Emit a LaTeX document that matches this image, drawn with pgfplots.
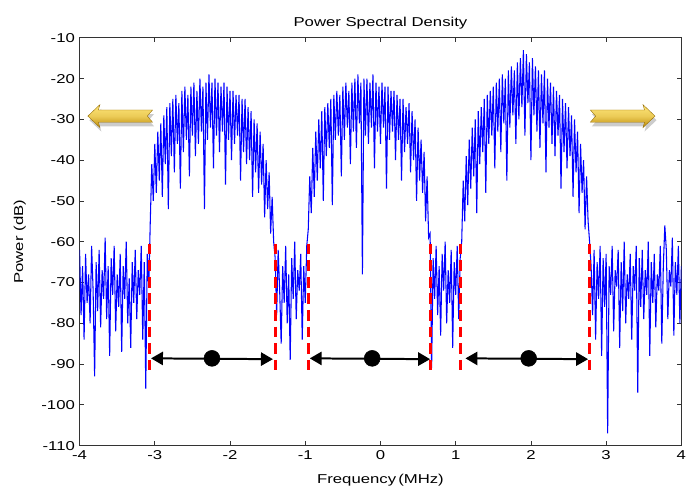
\documentclass[border=0pt]{standalone}
\usepackage{fontspec}
\setmainfont[FakeStretch=1.3]{Liberation Sans}
\usepackage{pgfplots}
\pgfplotsset{compat=1.18}
\usetikzlibrary{arrows.meta}
\usepackage{pgfplotstable}

\definecolor{specblue}{RGB}{0,0,255}
\definecolor{goldlight}{RGB}{255,230,120}
\definecolor{golddark}{RGB}{190,140,10}

% power spectral density samples (MHz, dB)
\pgfplotstableread{
x y
-4.00 -62
-3.98 -78
-3.96 -66
-3.94 -84
-3.92 -63
-3.90 -75
-3.88 -68
-3.86 -80
-3.84 -61
-3.82 -72
-3.80 -93
-3.78 -65
-3.76 -77
-3.74 -62
-3.72 -81
-3.70 -67
-3.68 -74
-3.66 -59
-3.64 -79
-3.62 -66
-3.60 -88
-3.58 -64
-3.56 -73
-3.54 -61
-3.52 -82
-3.50 -68
-3.48 -76
-3.46 -63
-3.44 -87
-3.42 -66
-3.40 -74
-3.38 -60
-3.36 -80
-3.34 -69
-3.32 -86
-3.30 -65
-3.28 -75
-3.26 -62
-3.24 -79
-3.22 -67
-3.20 -73
-3.18 -61
-3.16 -84
-3.14 -65
-3.12 -96
-3.10 -63
-3.08 -71
-3.06 -55
-3.04 -41
-3.02 -50
-3.00 -36
-2.98 -48
-2.96 -33
-2.94 -45
-2.92 -31
-2.90 -49
-2.88 -29
-2.86 -41
-2.84 -27
-2.82 -52
-2.80 -26
-2.78 -39
-2.76 -25
-2.74 -43
-2.72 -24
-2.70 -36
-2.68 -26
-2.66 -47
-2.64 -23
-2.62 -38
-2.60 -22
-2.58 -35
-2.56 -24
-2.54 -44
-2.52 -22
-2.50 -34
-2.48 -21
-2.46 -39
-2.44 -23
-2.42 -36
-2.40 -20
-2.38 -33
-2.36 -22
-2.34 -52
-2.32 -21
-2.30 -35
-2.28 -19
-2.26 -32
-2.24 -21
-2.22 -42
-2.20 -20
-2.18 -34
-2.16 -21
-2.14 -38
-2.12 -22
-2.10 -33
-2.08 -21
-2.06 -46
-2.04 -22
-2.02 -35
-2.00 -23
-1.98 -40
-1.96 -23
-1.94 -36
-1.92 -24
-1.90 -34
-1.88 -24
-1.86 -45
-1.84 -25
-1.82 -38
-1.80 -25
-1.78 -41
-1.76 -27
-1.74 -40
-1.72 -28
-1.70 -49
-1.68 -30
-1.66 -43
-1.64 -31
-1.62 -48
-1.60 -33
-1.58 -46
-1.56 -36
-1.54 -54
-1.52 -40
-1.50 -52
-1.48 -43
-1.46 -58
-1.44 -49
-1.42 -60
-1.40 -64
-1.38 -78
-1.36 -62
-1.34 -72
-1.32 -85
-1.30 -66
-1.28 -75
-1.26 -61
-1.24 -80
-1.22 -68
-1.20 -89
-1.18 -64
-1.16 -74
-1.14 -60
-1.12 -79
-1.10 -67
-1.08 -72
-1.06 -63
-1.04 -84
-1.02 -66
-1.00 -75
-0.98 -61
-0.96 -57
-0.94 -44
-0.92 -53
-0.90 -37
-0.88 -49
-0.86 -33
-0.84 -45
-0.82 -30
-0.80 -42
-0.78 -28
-0.76 -50
-0.74 -27
-0.72 -39
-0.70 -26
-0.68 -37
-0.66 -25
-0.64 -51
-0.62 -24
-0.60 -35
-0.58 -23
-0.56 -34
-0.54 -24
-0.52 -44
-0.50 -22
-0.48 -35
-0.46 -21
-0.44 -32
-0.42 -23
-0.40 -41
-0.38 -21
-0.36 -33
-0.34 -20
-0.32 -37
-0.30 -19
-0.28 -31
-0.26 -21
-0.24 -68
-0.22 -20
-0.20 -34
-0.18 -20
-0.16 -36
-0.14 -21
-0.12 -32
-0.10 -19
-0.08 -42
-0.06 -21
-0.04 -33
-0.02 -22
0.00 -36
0.02 -21
0.04 -32
0.06 -22
0.08 -47
0.10 -22
0.12 -35
0.14 -23
0.16 -33
0.18 -23
0.20 -40
0.22 -24
0.24 -35
0.26 -25
0.28 -45
0.30 -25
0.32 -38
0.34 -27
0.36 -36
0.38 -26
0.40 -43
0.42 -28
0.44 -40
0.46 -30
0.48 -50
0.50 -32
0.52 -45
0.54 -35
0.56 -48
0.58 -38
0.60 -55
0.62 -44
0.64 -59
0.66 -58
0.68 -91
0.70 -64
0.72 -74
0.74 -61
0.76 -78
0.78 -66
0.80 -83
0.82 -63
0.84 -72
0.86 -60
0.88 -80
0.90 -67
0.92 -75
0.94 -62
0.96 -86
0.98 -65
1.00 -73
1.02 -61
1.04 -79
1.06 -64
1.08 -60
1.10 -45
1.12 -55
1.14 -39
1.16 -51
1.18 -35
1.20 -47
1.22 -32
1.24 -44
1.26 -30
1.28 -53
1.30 -28
1.32 -41
1.34 -27
1.36 -38
1.38 -25
1.40 -48
1.42 -24
1.44 -36
1.46 -23
1.48 -34
1.50 -22
1.52 -42
1.54 -21
1.56 -33
1.58 -20
1.60 -38
1.62 -19
1.64 -31
1.66 -20
1.68 -45
1.70 -18
1.72 -32
1.74 -17
1.76 -29
1.78 -18
1.80 -36
1.82 -16
1.84 -30
1.86 -15
1.88 -27
1.90 -13
1.92 -34
1.94 -14
1.96 -26
1.98 -16
2.00 -40
2.02 -15
2.04 -29
2.06 -17
2.08 -33
2.10 -18
2.12 -37
2.14 -19
2.16 -31
2.18 -18
2.20 -43
2.22 -20
2.24 -32
2.26 -21
2.28 -36
2.30 -22
2.32 -39
2.34 -23
2.36 -34
2.38 -24
2.40 -47
2.42 -25
2.44 -38
2.46 -26
2.48 -42
2.50 -27
2.52 -39
2.54 -29
2.56 -49
2.58 -30
2.60 -43
2.62 -33
2.64 -53
2.66 -36
2.68 -48
2.70 -40
2.72 -57
2.74 -44
2.76 -55
2.78 -60
2.80 -66
2.82 -78
2.84 -62
2.86 -84
2.88 -65
2.90 -74
2.92 -61
2.94 -88
2.96 -64
2.98 -76
3.00 -63
3.02 -107
3.04 -66
3.06 -73
3.08 -61
3.10 -82
3.12 -67
3.14 -71
3.16 -62
3.18 -86
3.20 -65
3.22 -77
3.24 -60
3.26 -80
3.28 -68
3.30 -74
3.32 -63
3.34 -84
3.36 -66
3.38 -72
3.40 -61
3.42 -97
3.44 -64
3.46 -76
3.48 -62
3.50 -79
3.52 -67
3.54 -73
3.56 -60
3.58 -88
3.60 -65
3.62 -75
3.64 -63
3.66 -81
3.68 -68
3.70 -72
3.72 -61
3.74 -85
3.76 -66
3.78 -56
3.80 -62
3.82 -79
3.84 -67
3.86 -71
3.88 -59
3.90 -83
3.92 -65
3.94 -73
3.96 -61
3.98 -80
4.00 -66
}\psd

\begin{document}
\begin{tikzpicture}
\begin{axis}[
    scale only axis,
    width=453.75pt, height=307.5pt,
    xmin=-4, xmax=4,
    ymin=-110, ymax=-10,
    xtick={-4,-3,...,4},
    ytick={-110,-100,...,-10},
    tick align=inside,
    major tick length=3.5pt,
    axis line style={black!80, line width=0.6pt},
    tick style={black!80, line width=0.6pt},
    font=\fontsize{9.7}{11}\selectfont,
    /pgf/number format/assume math mode=true,
    title={Power Spectral Density},
    title style={yshift=-3pt},
    xlabel={Frequency\,(MHz)},
    ylabel={Power (dB)},
    xlabel style={yshift=-4pt},
    ylabel style={yshift=5pt},
    clip=true,
]
\addplot[specblue, line width=0.8pt] table[x=x, y=y] {\psd};

% band edges
\addplot[red, line width=2.2pt, dash pattern=on 8pt off 4.5pt] coordinates {(-3.07,-60.5) (-3.07,-91.5)};
\addplot[red, line width=2.2pt, dash pattern=on 8pt off 4.5pt] coordinates {(-1.40,-60.5) (-1.40,-91.5)};
\addplot[red, line width=2.2pt, dash pattern=on 8pt off 4.5pt] coordinates {(-0.96,-60.5) (-0.96,-91.5)};
\addplot[red, line width=2.2pt, dash pattern=on 8pt off 4.5pt] coordinates {(0.67,-60.5) (0.67,-91.5)};
\addplot[red, line width=2.2pt, dash pattern=on 8pt off 4.5pt] coordinates {(1.06,-60.5) (1.06,-91.5)};
\addplot[red, line width=2.2pt, dash pattern=on 8pt off 4.5pt] coordinates {(2.78,-60.5) (2.78,-91.5)};

% channel width arrows
\addplot[black, line width=1.5pt, {Triangle[length=9pt,width=10pt]}-{Triangle[length=9pt,width=10pt]}] coordinates {(-3.05,-88.6) (-1.43,-88.8)};
\addplot[black, line width=1.5pt, {Triangle[length=9pt,width=10pt]}-{Triangle[length=9pt,width=10pt]}] coordinates {(-0.94,-88.6) (0.66,-88.8)};
\addplot[black, line width=1.5pt, {Triangle[length=9pt,width=10pt]}-{Triangle[length=9pt,width=10pt]}] coordinates {(1.13,-88.6) (2.76,-88.8)};
\addplot[only marks, mark=*, mark size=6pt, black] coordinates {(-2.24,-88.6) (-0.11,-88.6) (1.97,-88.6)};

% gold arrows
\fill[black, opacity=0.2] (-3.87,-30.2) -- (-3.71,-27.4) -- (-3.73,-28.7) -- (-3.01,-28.7) -- (-3.08,-30.2) -- (-3.01,-31.7) -- (-3.73,-31.7) -- (-3.71,-33.0) -- cycle;
\shade[top color=goldlight, bottom color=golddark, middle color=goldlight!70!golddark, draw=golddark!80!black, line width=0.3pt]
  (-3.89,-29.2) -- (-3.73,-26.4) -- (-3.75,-27.7) -- (-3.03,-27.7) -- (-3.10,-29.2) -- (-3.03,-30.7) -- (-3.75,-30.7) -- (-3.73,-32.0) -- cycle;
\fill[black, opacity=0.2] (3.67,-30.2) -- (3.51,-27.4) -- (3.53,-28.7) -- (2.81,-28.7) -- (2.88,-30.2) -- (2.81,-31.7) -- (3.53,-31.7) -- (3.51,-33.0) -- cycle;
\shade[top color=goldlight, bottom color=golddark, middle color=goldlight!70!golddark, draw=golddark!80!black, line width=0.3pt]
  (3.65,-29.2) -- (3.49,-26.4) -- (3.51,-27.7) -- (2.79,-27.7) -- (2.86,-29.2) -- (2.79,-30.7) -- (3.51,-30.7) -- (3.49,-32.0) -- cycle;
\end{axis}
% page frame as in the reference
\pgfresetboundingbox
\path[use as bounding box] (-60pt,-31.5pt) rectangle (458pt,336pt);
\end{tikzpicture}
\end{document}
